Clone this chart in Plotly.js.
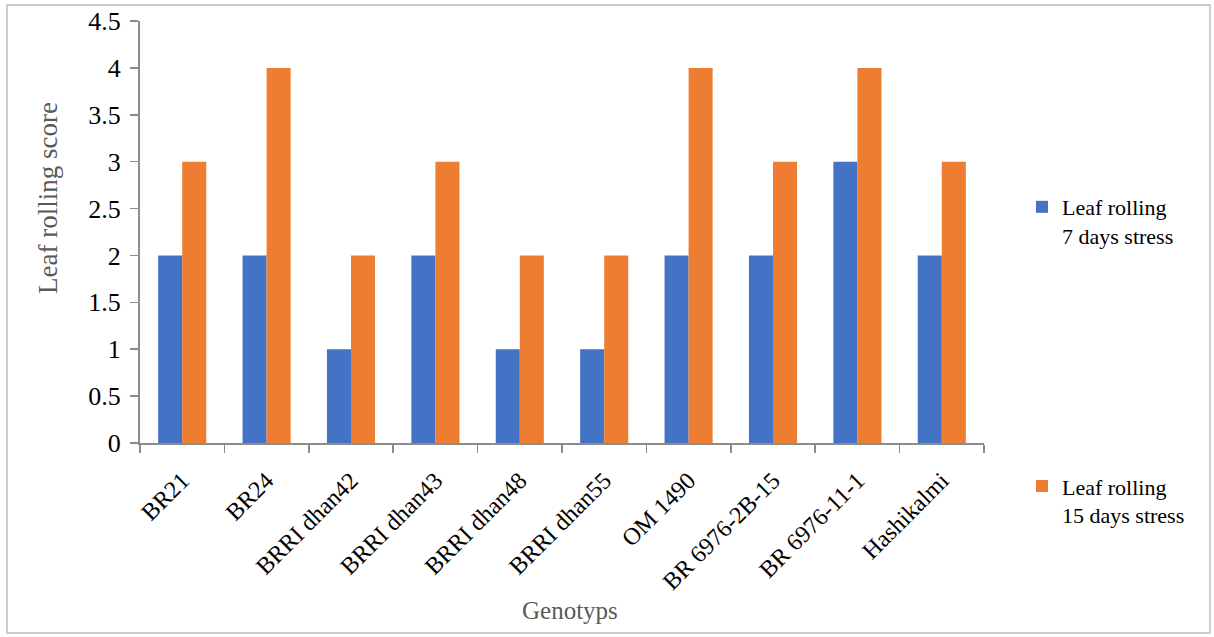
<!DOCTYPE html>
<html>
<head>
<meta charset="utf-8">
<script src="https://cdn.plot.ly/plotly-3.0.1.min.js"></script>
<style>
  html, body { margin: 0; padding: 0; background: #fff; }
  #chart { width: 1214px; height: 637px; }
</style>
</head>
<body>
<div id="chart"></div>
<script>
// Genotypes screened for leaf rolling under drought stress
const genotypes = ["BR21", "BR24", "BRRI dhan42", "BRRI dhan43", "BRRI dhan48",
                   "BRRI dhan55", "OM 1490", "BR 6976-2B-15", "BR 6976-11-1", "Hashikalmi"];
const rolling7days  = [2, 2, 1, 2, 1, 1, 2, 2, 3, 2];
const rolling15days = [3, 4, 2, 3, 2, 2, 4, 3, 4, 3];
const seriesNames = ["Leaf rolling<br>7 days stress", "Leaf rolling<br>15 days stress"];
const yTicks = [0, 0.5, 1, 1.5, 2, 2.5, 3, 3.5, 4, 4.5];
const yTickText = ["0", "0.5", "1", "1.5", "2", "2.5", "3", "3.5", "4", "4.5"];

const serif = "Liberation Serif, Times New Roman, serif";
const axisGrey = "#8c8c8c";

const traces = [
  { type: "bar", x: genotypes, y: rolling7days, name: seriesNames[0],
    marker: { color: "#4472c4" }, legendgroup: "a" },
  { type: "bar", x: genotypes, y: rolling15days, name: seriesNames[1],
    marker: { color: "#ed7d31" }, legendgroup: "b" }
];

// plot area in pixels: x 140..984, y 21..443
const L = 140, R = 984, T = 21, B = 443;
const px = v => (v - L) / (R - L);
const py = v => (B - v) / (B - T);

const layout = {
  width: 1214, height: 637,
  margin: { l: L, r: 1214 - R, t: T, b: 637 - B },
  paper_bgcolor: "#fff", plot_bgcolor: "#fff",
  font: { family: serif, size: 22, color: "#000" },
  barmode: "group",
  bargap: 0.43,
  bargroupgap: 0,
  showlegend: true,
  legend: {
    x: px(1022), y: py(186), xanchor: "left", yanchor: "top",
    font: { family: serif, size: 22, color: "#000" },
    tracegroupgap: 219, itemwidth: 30, traceorder: "grouped", valign: "top",
    bgcolor: "rgba(0,0,0,0)"
  },
  xaxis: {
    type: "category",
    showline: true, linecolor: axisGrey, linewidth: 2,
    ticks: "outside", tickson: "boundaries", ticklen: 8, tickcolor: axisGrey, tickwidth: 1.5,
    tickangle: -45, ticklabelstandoff: 12,
    tickfont: { family: serif, size: 24, color: "#000" },
    showgrid: false, zeroline: false, fixedrange: true, automargin: false
  },
  yaxis: {
    range: [0, 4.5], tickvals: yTicks, ticktext: yTickText,
    showline: true, linecolor: axisGrey, linewidth: 2,
    ticks: "outside", ticklen: 8, tickcolor: axisGrey, tickwidth: 1.5,
    ticklabelstandoff: 4,
    tickfont: { family: serif, size: 26, color: "#000" },
    showgrid: false, zeroline: false, fixedrange: true, automargin: false
  },
  annotations: [
    { text: "Leaf rolling score", xref: "paper", yref: "paper",
      x: px(48), y: py(198), xanchor: "center", yanchor: "middle",
      textangle: -90, showarrow: false,
      font: { family: serif, size: 27, color: "#595959" } },
    { text: "Genotyps", xref: "paper", yref: "paper",
      x: px(570), y: py(610), xanchor: "center", yanchor: "middle", showarrow: false,
      font: { family: serif, size: 25, color: "#595959" } }
  ],
  shapes: [
    { type: "rect", xref: "paper", yref: "paper",
      x0: px(7), x1: px(1210), y0: py(633), y1: py(5),
      line: { color: "#bfbfbf", width: 1.5 }, fillcolor: "rgba(0,0,0,0)", layer: "below" }
  ]
};

Plotly.newPlot("chart", traces, layout, { displayModeBar: false, staticPlot: true });
</script>
</body>
</html>
